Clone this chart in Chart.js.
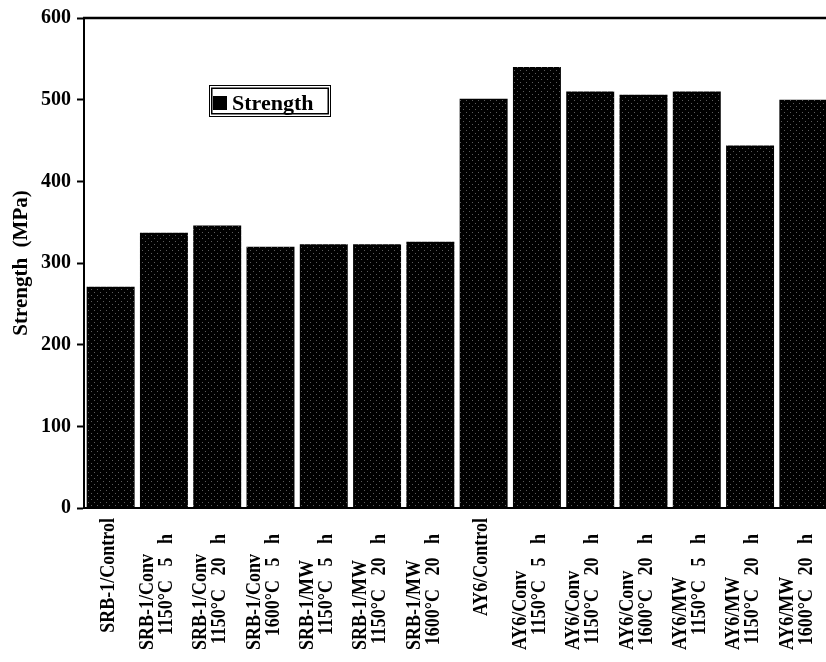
<!DOCTYPE html>
<html>
<head>
<meta charset="utf-8">
<script src="https://cdn.jsdelivr.net/npm/chart.js@4/dist/chart.umd.min.js"></script>
<style>
  html, body { margin: 0; padding: 0; background: #fff; overflow: hidden; }
  #wrap { width: 826px; height: 662px; overflow: hidden; position: relative; }
  #c { position: absolute; left: 0; top: 0; }
</style>
</head>
<body>
<div id="wrap"><canvas id="c" width="832" height="662"></canvas></div>
<script>
// Specimen groups: first line = material / process, second line = firing schedule
const categories = [
  ["SRB-1/Control"],
  ["SRB-1/Conv", "1150°C   5   h"],
  ["SRB-1/Conv", "1150°C   20   h"],
  ["SRB-1/Conv", "1600°C   5   h"],
  ["SRB-1/MW", "1150°C   5   h"],
  ["SRB-1/MW", "1150°C   20   h"],
  ["SRB-1/MW", "1600°C   20   h"],
  ["AY6/Control"],
  ["AY6/Conv", "1150°C   5   h"],
  ["AY6/Conv", "1150°C   20   h"],
  ["AY6/Conv", "1600°C   20   h"],
  ["AY6/MW", "1150°C   5   h"],
  ["AY6/MW", "1150°C   20   h"],
  ["AY6/MW", "1600°C   20   h"]
];
// Strength in MPa
const strength = [271, 337, 346, 320, 323, 323, 326, 501, 540, 510, 506, 510, 444, 500];
const yTicks = [0, 100, 200, 300, 400, 500, 600];
const seriesName = "Strength";
const axisTitle = "Strength  (MPa)";

const SERIF = '"Liberation Serif", "Times New Roman", serif';
const canvas = document.getElementById('c');
const ctx0 = canvas.getContext('2d');

// black fill with a sparse light stipple
function stipple() {
  const p = document.createElement('canvas');
  p.width = 6; p.height = 6;
  const g = p.getContext('2d');
  g.fillStyle = '#000';
  g.fillRect(0, 0, 6, 6);
  g.fillStyle = '#5c5c5c';
  g.fillRect(1, 1, 1, 1);
  g.fillRect(4, 4, 1, 1);
  return ctx0.createPattern(p, 'repeat');
}

// rotated two-line category labels under the axis (glyphs drawn slightly tall)
const categoryLabels = {
  id: 'categoryLabels',
  afterDraw(chart) {
    const ctx = chart.ctx, xs = chart.scales.x, area = chart.chartArea;
    ctx.save();
    ctx.fillStyle = '#000';
    ctx.font = 'bold 18px ' + SERIF;
    ctx.textBaseline = 'alphabetic';
    const draw = (text, x, y, align) => {
      ctx.save();
      ctx.translate(x + 7.2, y);
      ctx.rotate(-Math.PI / 2);
      ctx.scale(1, 1.2);
      ctx.textAlign = align;
      ctx.fillText(text, 0, 0);
      ctx.restore();
    };
    categories.forEach((lines, i) => {
      const cx = xs.getPixelForValue(i);
      if (lines.length === 1) {
        draw(lines[0], cx - 4, area.bottom + 10, 'right');
      } else {
        draw(lines[0], cx - 18, area.bottom + 142, 'left');
        draw(lines[1], cx + 1, area.bottom + 26, 'right');
      }
    });
    ctx.restore();
  }
};

// top frame line and the boxed legend inside the plot
const frameAndLegend = {
  id: 'frameAndLegend',
  afterDatasetsDraw(chart) {
    const ctx = chart.ctx, area = chart.chartArea;
    ctx.save();
    ctx.strokeStyle = '#000';
    ctx.lineWidth = 2.5;
    ctx.beginPath();
    ctx.moveTo(area.left - 1, area.top);
    ctx.lineTo(chart.width, area.top);
    ctx.stroke();

    const L = area.left + 125, T = area.top + 67;
    ctx.fillStyle = '#fff';
    ctx.fillRect(L, T, 122, 32);
    ctx.lineWidth = 1;
    ctx.strokeRect(L + 0.5, T + 0.5, 121, 31);
    ctx.lineWidth = 1.5;
    ctx.strokeRect(L + 2.75, T + 3.25, 116.5, 25.5);
    ctx.fillStyle = '#000';
    ctx.fillRect(L + 4, T + 11, 14, 14);
    ctx.font = 'bold 22px ' + SERIF;
    ctx.textAlign = 'left';
    ctx.textBaseline = 'alphabetic';
    ctx.fillText(chart.data.datasets[0].label, L + 23, T + 25);
    ctx.restore();
  }
};

new Chart(canvas, {
  type: 'bar',
  data: {
    labels: categories.map(l => l.join(' ')),
    datasets: [{
      label: seriesName,
      data: strength,
      backgroundColor: stipple(),
      borderWidth: 0,
      barPercentage: 0.9,
      categoryPercentage: 1.0
    }]
  },
  options: {
    responsive: false,
    devicePixelRatio: 1,
    animation: false,
    layout: { padding: { top: 18, right: 2, left: 0, bottom: 0 } },
    plugins: {
      legend: { display: false },
      tooltip: { enabled: false }
    },
    scales: {
      x: {
        grid: { display: false, drawTicks: false },
        border: { color: '#000', width: 2 },
        ticks: { display: false },
        afterFit(s) { s.height = 154; }
      },
      y: {
        min: 0,
        max: 600,
        afterBuildTicks(s) { s.ticks = yTicks.map(v => ({ value: v })); },
        ticks: {
          color: '#000',
          padding: 6,
          font: { family: SERIF, size: 20, weight: 'bold' }
        },
        grid: { drawOnChartArea: false, drawTicks: true, tickLength: 7, tickColor: '#000', tickWidth: 2 },
        border: { color: '#000', width: 2 },
        title: {
          display: true,
          text: axisTitle,
          color: '#000',
          font: { family: SERIF, size: 21, weight: 'bold' },
          padding: { top: 9, bottom: 0 }
        },
        afterFit(s) { s.width = 84; }
      }
    }
  },
  plugins: [categoryLabels, frameAndLegend]
});
</script>
</body>
</html>
